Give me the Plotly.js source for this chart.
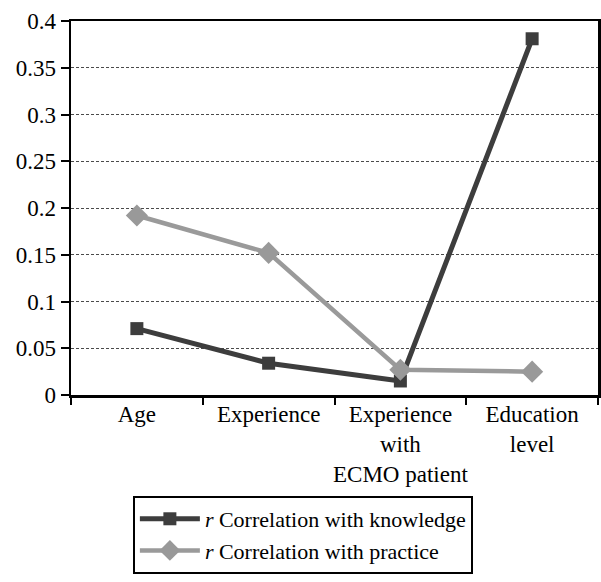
<!DOCTYPE html>
<html>
<head>
<meta charset="utf-8">
<script src="https://cdn.plot.ly/plotly-3.0.1.min.js"></script>
<style>html,body{margin:0;padding:0;background:#fff;}#chart{width:601px;height:582px;}</style>
</head>
<body>
<div id="chart"></div>
<script>
const categories = ["Age", "Experience", "Experience<br>with<br>ECMO patient", "Education<br>level"];
const knowledge = [0.071, 0.034, 0.015, 0.381];
const practice = [0.192, 0.152, 0.027, 0.025];
const seriesNames = ["<i>r</i> Correlation with knowledge", "<i>r</i> Correlation with practice"];
const yTicks = [0, 0.05, 0.1, 0.15, 0.2, 0.25, 0.3, 0.35, 0.4];
const yTickText = ["0", "0.05", "0.1", "0.15", "0.2", "0.25", "0.3", "0.35", "0.4"];

const FAMILY = "Liberation Serif";
const font = {family: FAMILY, size: 23, color: "#000"};
const legendFont = {family: FAMILY, size: 22, color: "#000"};

const traces = [
  {
    x: categories, y: knowledge, name: seriesNames[0], type: "scatter", mode: "lines+markers",
    line: {color: "#3d3d3d", width: 5},
    marker: {symbol: "square", size: 13, color: "#3d3d3d"}
  },
  {
    x: categories, y: practice, name: seriesNames[1], type: "scatter", mode: "lines+markers",
    line: {color: "#9a9a9a", width: 4.5},
    marker: {symbol: "diamond", size: 17, color: "#999999"}
  }
];

const layout = {
  width: 601, height: 582,
  margin: {l: 71, r: 3, t: 21, b: 187},
  paper_bgcolor: "#fff", plot_bgcolor: "#fff",
  font: font,
  showlegend: true,
  xaxis: {
    type: "category", range: [-0.5, 3.5],
    tickson: "boundaries", ticks: "outside", ticklen: 7, tickwidth: 2, tickcolor: "#000",
    showline: true, linecolor: "#000", linewidth: 2.5, mirror: true,
    showgrid: false, zeroline: false, tickfont: font, tickangle: 0,
    ticklabelstandoff: -3
  },
  yaxis: {
    range: [0, 0.4], tickvals: yTicks, ticktext: yTickText,
    ticks: "outside", ticklen: 8, tickwidth: 2, tickcolor: "#000",
    showline: true, linecolor: "#000", linewidth: 2.5, mirror: true,
    showgrid: true, gridcolor: "#4a4a4a", griddash: "3px,2px", gridwidth: 1,
    zeroline: false, tickfont: font
  },
  legend: {
    x: 0.44, xanchor: "center", y: -0.27, yanchor: "top",
    bordercolor: "#000", borderwidth: 2, bgcolor: "#fff",
    font: legendFont,
    itemwidth: 60, tracegroupgap: 0
  }
};

Plotly.newPlot("chart", traces, layout, {displayModeBar: false, staticPlot: true});
</script>
</body>
</html>
